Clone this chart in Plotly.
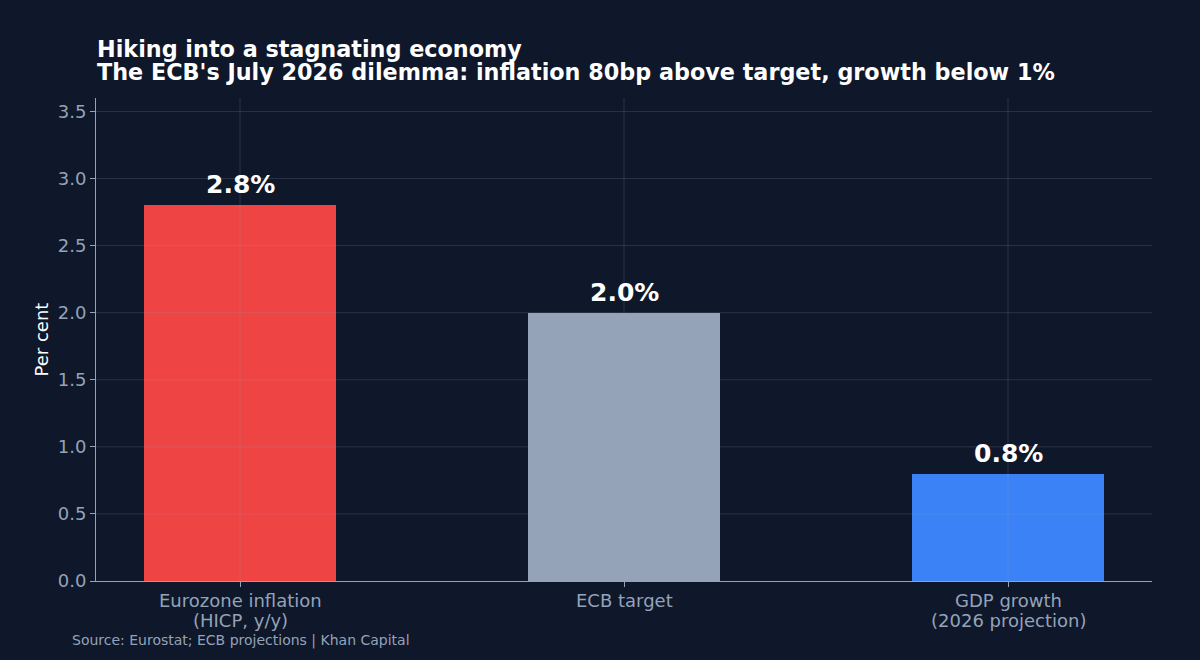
import plotly.graph_objects as go

categories = ["Eurozone inflation\n(HICP, y/y)", "ECB target", "GDP growth\n(2026 projection)"]
values = [2.8, 2.0, 0.8]
bar_colors = ["#ef4444", "#94a3b8", "#3b82f6"]
value_labels = ["2.8%", "2.0%", "0.8%"]
y_ticks = [0.0, 0.5, 1.0, 1.5, 2.0, 2.5, 3.0, 3.5]
y_tick_text = ["0.0", "0.5", "1.0", "1.5", "2.0", "2.5", "3.0", "3.5"]

BG = "#0f172a"
MUTED = "#94a3b8"
GRID = "rgba(148,163,184,0.2)"
FONT = "DejaVu Sans"
PLOT_H = 483

xpos = list(range(len(categories)))

fig = go.Figure()
fig.add_trace(go.Bar(
    x=xpos, y=values, width=0.5,
    marker=dict(color=bar_colors, line=dict(width=0)),
    hoverinfo="skip",
))

shapes = []
for t in y_ticks[1:]:
    shapes.append(dict(type="line", xref="paper", yref="y", x0=0, x1=1, y0=t, y1=t,
                       line=dict(color=GRID, width=1), layer="above"))
for xp in xpos:
    shapes.append(dict(type="line", xref="x", yref="paper", x0=xp, x1=xp, y0=0, y1=1,
                       line=dict(color=GRID, width=1), layer="above"))

annotations = []
for xp, v, lab in zip(xpos, values, value_labels):
    annotations.append(dict(x=xp, y=v, xref="x", yref="y", text=lab, showarrow=False,
                            yanchor="bottom", yshift=4,
                            font=dict(family=FONT, size=25, color="#ffffff", weight="bold")))

# category labels (one annotation per line for matplotlib-like line spacing)
for xp, cat in zip(xpos, categories):
    for i, line in enumerate(cat.split("\n")):
        annotations.append(dict(x=xp, xref="x", yref="paper", y=-(19 + 20 * i) / PLOT_H,
                                text=line, showarrow=False, xanchor="center", yanchor="middle",
                                font=dict(family=FONT, size=18, color=MUTED)))

annotations.append(dict(xref="paper", yref="paper", x=-1/1056, y=1 + 49/PLOT_H, xanchor="left", yanchor="middle",
                        text="Hiking into a stagnating economy", showarrow=False,
                        font=dict(family=FONT, size=22.3, color="#ffffff", weight="bold")))
annotations.append(dict(xref="paper", yref="paper", x=-1/1056, y=1 + 26/PLOT_H, xanchor="left", yanchor="middle",
                        text="The ECB's July 2026 dilemma: inflation 80bp above target, growth below 1%",
                        showarrow=False,
                        font=dict(family=FONT, size=22.3, color="#ffffff", weight="bold")))
annotations.append(dict(xref="paper", yref="paper", x=-26/1056, y=-59/PLOT_H, xanchor="left", yanchor="middle",
                        text="Source: Eurostat; ECB projections | Khan Capital", showarrow=False,
                        font=dict(family=FONT, size=14, color=MUTED)))

fig.update_layout(
    width=1200, height=660,
    margin=dict(l=96, r=48, t=98, b=79),
    paper_bgcolor=BG, plot_bgcolor=BG,
    font=dict(family=FONT, color=MUTED),
    showlegend=False,
    shapes=shapes,
    annotations=annotations,
    bargap=0,
)
fig.update_xaxes(
    range=[-0.375, 2.375], tickmode="array", tickvals=xpos, ticktext=["" for _ in xpos],
    showgrid=False, zeroline=False, showline=True, linecolor=MUTED, linewidth=1,
    ticks="outside", ticklen=5, tickcolor=MUTED, tickfont=dict(family=FONT, size=18, color=MUTED),
)
fig.update_yaxes(
    range=[0, 3.6], tickmode="array", tickvals=y_ticks, ticktext=y_tick_text,
    showgrid=False, zeroline=False, showline=True, linecolor=MUTED, linewidth=1,
    ticks="outside", ticklen=5, tickcolor=MUTED, tickfont=dict(family=FONT, size=18, color=MUTED),
    title=dict(text="Per cent", font=dict(family=FONT, size=18, color="#ffffff"), standoff=4),
)

fig.write_html("out.html")
